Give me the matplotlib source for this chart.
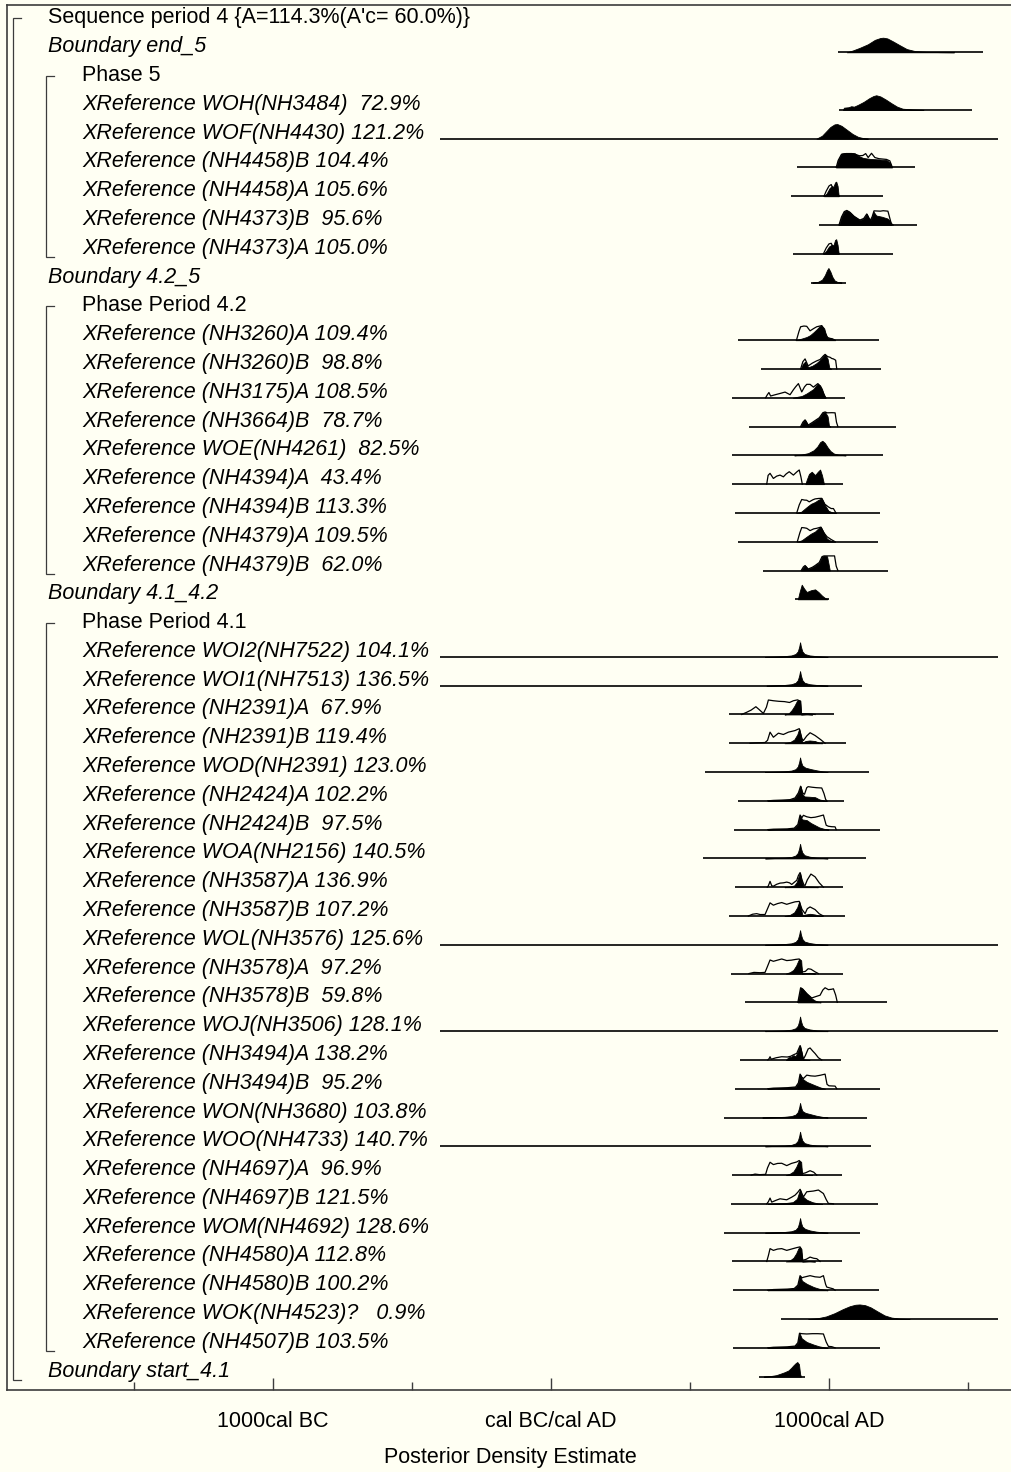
import matplotlib
matplotlib.use("Agg")
import matplotlib.pyplot as plt
from matplotlib.transforms import blended_transform_factory
from matplotlib.ticker import FixedLocator

plt.rcParams['font.family'] = ['Liberation Sans', 'DejaVu Sans']

# ---------------------------------------------------------------------------
# Model rows (top to bottom)
# ---------------------------------------------------------------------------
row_names = [
    "Sequence period 4 {A=114.3%(A'c= 60.0%)}",
    "Boundary end_5",
    "Phase 5",
    "XReference WOH(NH3484)",
    "XReference WOF(NH4430)",
    "XReference (NH4458)B",
    "XReference (NH4458)A",
    "XReference (NH4373)B",
    "XReference (NH4373)A",
    "Boundary 4.2_5",
    "Phase Period 4.2",
    "XReference (NH3260)A",
    "XReference (NH3260)B",
    "XReference (NH3175)A",
    "XReference (NH3664)B",
    "XReference WOE(NH4261)",
    "XReference (NH4394)A",
    "XReference (NH4394)B",
    "XReference (NH4379)A",
    "XReference (NH4379)B",
    "Boundary 4.1_4.2",
    "Phase Period 4.1",
    "XReference WOI2(NH7522)",
    "XReference WOI1(NH7513)",
    "XReference (NH2391)A",
    "XReference (NH2391)B",
    "XReference WOD(NH2391)",
    "XReference (NH2424)A",
    "XReference (NH2424)B",
    "XReference WOA(NH2156)",
    "XReference (NH3587)A",
    "XReference (NH3587)B",
    "XReference WOL(NH3576)",
    "XReference (NH3578)A",
    "XReference (NH3578)B",
    "XReference WOJ(NH3506)",
    "XReference (NH3494)A",
    "XReference (NH3494)B",
    "XReference WON(NH3680)",
    "XReference WOO(NH4733)",
    "XReference (NH4697)A",
    "XReference (NH4697)B",
    "XReference WOM(NH4692)",
    "XReference (NH4580)A",
    "XReference (NH4580)B",
    "XReference WOK(NH4523)?",
    "XReference (NH4507)B",
    "Boundary start_4.1",
]

row_kinds = (["seq", "boundary", "phase"] + ["xref"] * 6 + ["boundary", "phase"]
             + ["xref"] * 9 + ["boundary", "phase"] + ["xref"] * 25 + ["boundary"])

# agreement index (%) of each XReference, in row order
xref_agreement = [
    72.9, 121.2, 104.4, 105.6, 95.6, 105.0,
    109.4, 98.8, 108.5, 78.7, 82.5, 43.4, 113.3, 109.5, 62.0,
    104.1, 136.5, 67.9, 119.4, 123.0, 102.2, 97.5, 140.5, 136.9, 107.2,
    125.6, 97.2, 59.8, 128.1, 138.2, 95.2, 103.8, 140.7, 96.9, 121.5,
    128.6, 112.8, 100.2, 0.9, 103.5,
]

# plotted range of each distribution (calendar years, BC negative)
range_start = [None, 1034, None, 1037, -400, 884, 863, 964, 869, 935, None,
               674, 755, 652, 712, 652, 652, 662, 671, 761, 878, None,
               -400, -400, 640, 640, 554, 674, 658, 546, 662, 640, -400,
               648, 698, -400, 680, 662, 623, -400, 650, 648, 623, 652, 656,
               827, 656, 749]
range_end = [None, 1553, None, 1513, 1608, 1309, 1193, 1315, 1231, 1060, None,
             1180, 1187, 1058, 1240, 1196, 1049, 1183, 1177, 1211, 1000, None,
             1609, 1120, 1019, 1060, 1144, 1055, 1183, 1132, 1049, 1058, 1609,
             1049, 1210, 1609, 1042, 1183, 1136, 1150, 1046, 1175, 1111, 1048,
             1181, 1609, 1183, 914]

# ---------------------------------------------------------------------------
# Posterior (filled) and likelihood (outline) densities: (year, relative height)
# ---------------------------------------------------------------------------
post_end_5 = [(1064, 0), (1085, 0.12), (1110, 0.3), (1140, 0.55), (1165, 0.85), (1185, 0.98),
              (1195, 1.0), (1210, 0.95), (1230, 0.75), (1255, 0.48), (1280, 0.22),
              (1310, 0.08), (1350, 0.03), (1400, 0.01), (1450, 0)]
post_WOH = [(1050, 0), (1054, 0.15), (1070, 0.18), (1080, 0.25), (1090, 0.22), (1105, 0.35),
            (1125, 0.55), (1145, 0.8), (1160, 0.95), (1170, 1.0), (1185, 0.92), (1205, 0.7),
            (1225, 0.45), (1245, 0.22), (1265, 0.08), (1300, 0.03), (1340, 0)]
post_WOF = [(955, 0), (975, 0.2), (990, 0.5), (1005, 0.8), (1020, 0.98), (1030, 1.0),
            (1045, 0.88), (1065, 0.6), (1085, 0.32), (1105, 0.12), (1125, 0.03), (1140, 0)]
post_4458B = [(1026, 0), (1033, 0.5), (1045, 0.95), (1060, 1.0), (1080, 1.0), (1093, 0.97),
              (1105, 0.8), (1123, 0.65), (1150, 0.58), (1180, 0.55), (1208, 0.5),
              (1220, 0.3), (1226, 0)]
like_4458B = [(1026, 0), (1033, 0.48), (1045, 0.9), (1060, 0.94), (1080, 0.94), (1093, 0.9),
              (1110, 0.8), (1122, 0.82), (1132, 0.95), (1141, 0.68), (1153, 0.97),
              (1165, 0.68), (1180, 0.6), (1207, 0.55), (1219, 0.45), (1228, 0)]
post_4458A = [(982, 0), (992, 0.2), (1002, 0.55), (1010, 0.7), (1016, 0.65), (1022, 0.95),
              (1026, 1.0), (1031, 0.7), (1035, 0)]
like_4458A = [(982, 0), (990, 0.35), (1000, 0.7), (1008, 0.8), (1014, 0.55), (1020, 0.4),
              (1030, 0.25), (1036, 0)]
post_4373B = [(1036, 0), (1045, 0.55), (1055, 0.92), (1064, 1.0), (1075, 0.88), (1090, 0.6),
              (1111, 0.34), (1125, 0.45), (1136, 0.76), (1148, 0.3), (1155, 0.55),
              (1160, 0.92), (1170, 0.65), (1190, 0.57), (1210, 0.45), (1219, 0.3), (1226, 0)]
like_4373B = [(1036, 0), (1045, 0.55), (1055, 0.92), (1064, 1.0), (1075, 0.88), (1090, 0.6),
              (1111, 0.34), (1125, 0.45), (1136, 0.76), (1148, 0.3), (1155, 0.55),
              (1162, 0.97), (1185, 0.95), (1195, 0.98), (1212, 0.95), (1217, 0.6),
              (1224, 0.1), (1231, 0)]
post_4373A = [(980, 0), (990, 0.2), (1000, 0.5), (1010, 0.62), (1016, 0.58), (1022, 0.95),
              (1026, 1.0), (1031, 0.6), (1035, 0)]
like_4373A = [(980, 0), (990, 0.4), (1000, 0.68), (1008, 0.72), (1014, 0.5), (1022, 0.35),
              (1030, 0.2), (1036, 0)]
post_b42_5 = [(940, 0), (960, 0.05), (975, 0.2), (985, 0.5), (993, 0.85), (998, 1.0),
              (1005, 0.75), (1012, 0.4), (1020, 0.15), (1030, 0.05), (1045, 0)]
post_3260A = [(880, 0), (900, 0.1), (920, 0.22), (932, 0.34), (945, 0.55), (956, 0.75),
              (966, 0.95), (974, 1.0), (983, 0.8), (990, 0.3), (995, 0.18), (1005, 0.1),
              (1015, 0.05), (1022, 0)]
like_3260A = [(883, 0), (892, 0.6), (898, 0.92), (910, 0.97), (920, 0.95), (932, 0.64),
              (945, 0.8), (956, 0.92), (974, 1.0), (985, 0.55), (995, 0.18), (1005, 0.12),
              (1012, 0.1), (1022, 0)]
post_3260B = [(898, 0), (906, 0.35), (914, 0.5), (925, 0.12), (940, 0.22), (955, 0.4),
              (968, 0.62), (980, 0.9), (986, 1.0), (995, 0.7), (1001, 0.1), (1008, 0)]
like_3260B = [(898, 0), (906, 0.5), (914, 0.69), (925, 0.21), (940, 0.4), (955, 0.55),
              (968, 0.65), (980, 0.9), (986, 1.0), (995, 0.85), (1004, 0.8), (1010, 0.72),
              (1016, 0.69), (1024, 0.6), (1028, 0)]
post_3175A = [(870, 0), (890, 0.08), (902, 0.12), (920, 0.3), (932, 0.45), (944, 0.6),
              (952, 0.8), (960, 0.97), (968, 0.85), (975, 0.6), (982, 0.2), (988, 0)]
like_3175A = [(772, 0), (778, 0.2), (784, 0.36), (790, 0.12), (805, 0.2), (825, 0.3),
              (842, 0.39), (860, 0.21), (872, 0.55), (880, 0.75), (890, 0.97), (902, 0.4),
              (912, 0.75), (920, 0.92), (932, 0.92), (944, 0.73), (952, 0.85), (960, 0.97),
              (970, 0.7), (980, 0.3), (988, 0)]
post_3664B = [(898, 0), (906, 0.3), (914, 0.46), (925, 0.1), (940, 0.28), (950, 0.41),
              (965, 0.6), (978, 0.95), (986, 1.0), (995, 0.7), (1000, 0.05), (1005, 0)]
like_3664B = [(898, 0), (906, 0.3), (914, 0.46), (925, 0.1), (940, 0.28), (950, 0.41),
              (965, 0.6), (978, 0.95), (986, 1.0), (994, 0.94), (1010, 0.95), (1022, 0.94),
              (1027, 0.3), (1032, 0)]
post_WOE = [(875, 0), (900, 0.05), (925, 0.15), (945, 0.35), (958, 0.6), (968, 0.9),
            (976, 1.0), (985, 0.85), (995, 0.55), (1005, 0.3), (1018, 0.12), (1035, 0.04),
            (1060, 0)]
post_4394A = [(915, 0), (920, 0.3), (928, 0.7), (938, 0.85), (950, 0.62), (960, 0.85),
              (968, 1.0), (975, 0.6), (982, 0)]
like_4394A = [(776, 0), (781, 0.6), (788, 0.74), (800, 0.39), (812, 0.55), (824, 0.62),
              (836, 0.5), (846, 0.7), (857, 0.85), (872, 0.62), (885, 0.85), (893, 0.97),
              (899, 0.5), (904, 0)]
post_4394B = [(884, 0), (900, 0.08), (920, 0.4), (935, 0.62), (950, 0.75), (962, 0.9),
              (974, 1.0), (985, 0.55), (998, 0.15), (1010, 0.05), (1025, 0)]
like_4394B = [(884, 0), (893, 0.55), (902, 0.92), (912, 0.88), (920, 0.87), (929, 0.76),
              (942, 0.9), (950, 0.96), (962, 0.99), (974, 1.0), (985, 0.6), (998, 0.41),
              (1008, 0.3), (1016, 0.3), (1025, 0)]
post_4379A = [(886, 0), (902, 0.1), (920, 0.35), (935, 0.55), (950, 0.7), (962, 0.92),
              (971, 1.0), (982, 0.6), (993, 0.2), (1005, 0.08), (1022, 0)]
like_4379A = [(886, 0), (895, 0.6), (902, 0.97), (912, 0.95), (920, 0.92), (932, 0.76),
              (945, 0.88), (956, 0.92), (971, 1.0), (982, 0.6), (993, 0.34), (1008, 0.15),
              (1022, 0)]
post_4379B = [(900, 0), (908, 0.25), (914, 0.34), (925, 0.1), (940, 0.22), (950, 0.34),
              (965, 0.55), (975, 0.95), (982, 1.0), (993, 0.98), (999, 0.4), (1003, 0)]
like_4379B = [(900, 0), (908, 0.25), (914, 0.34), (925, 0.1), (940, 0.22), (950, 0.34),
              (965, 0.55), (975, 0.95), (982, 1.0), (1020, 1.0), (1026, 0.3), (1032, 0)]
post_b41_42 = [(888, 0), (895, 0.55), (902, 1.0), (910, 0.75), (920, 0.5), (935, 0.62),
               (950, 0.68), (962, 0.5), (975, 0.25), (985, 0.1), (994, 0)]
post_WOI2 = [(770, 0), (800, 0.02), (840, 0.05), (865, 0.1), (880, 0.2), (888, 0.38),
             (893, 0.7), (896, 1.0), (899, 0.7), (904, 0.38), (912, 0.2), (930, 0.1),
             (955, 0.05), (980, 0.02), (995, 0)]
post_WOI1 = [(775, 0), (800, 0.02), (840, 0.05), (865, 0.1), (880, 0.2), (888, 0.38),
             (893, 0.7), (896, 1.0), (899, 0.7), (904, 0.38), (912, 0.2), (930, 0.1),
             (955, 0.05), (980, 0.02), (995, 0)]
post_2391A = [(840, 0), (854, 0.05), (866, 0.3), (876, 0.6), (884, 0.9), (888, 1.0),
              (897, 0.95), (900, 0), (920, 0.03), (940, 0)]
like_2391A = [(686, 0), (704, 0.15), (720, 0.3), (737, 0.53), (748, 0.35), (764, 0.07),
              (775, 0.5), (782, 0.99), (800, 0.94), (820, 0.9), (840, 0.88), (858, 0.82),
              (872, 0.94), (887, 1.0), (897, 0.9), (900, 0.05), (915, 0.05), (930, 0.04),
              (950, 0)]
post_2391B = [(840, 0), (860, 0.08), (875, 0.25), (886, 0.6), (893, 1.0), (900, 0.4),
              (905, 0.05), (915, 0.15), (930, 0.19), (950, 0.15), (965, 0.03), (975, 0)]
like_2391B = [(716, 0), (740, 0.03), (770, 0.05), (779, 0.2), (788, 0.76), (800, 0.41),
              (818, 0.69), (836, 0.6), (854, 0.76), (878, 0.87), (893, 1.0), (903, 0.3),
              (908, 0.19), (920, 0.5), (932, 0.72), (950, 0.53), (970, 0.25), (986, 0)]
post_WOD = [(770, 0), (800, 0.02), (840, 0.05), (865, 0.1), (880, 0.2), (888, 0.38),
            (893, 0.7), (896, 1.0), (899, 0.72), (904, 0.45), (915, 0.3), (935, 0.2),
            (955, 0.12), (975, 0.05), (995, 0)]
post_2424A = [(780, 0), (800, 0.03), (830, 0.05), (860, 0.08), (878, 0.2), (890, 0.55),
              (898, 1.0), (905, 0.45), (912, 0.3), (930, 0.28), (950, 0.25), (965, 0.1),
              (980, 0.03), (992, 0)]
like_2424A = [(780, 0), (800, 0.03), (830, 0.05), (860, 0.08), (878, 0.2), (890, 0.55),
              (898, 1.0), (905, 0.55), (912, 0.45), (920, 0.9), (925, 0.97), (940, 0.93),
              (955, 0.9), (974, 0.88), (982, 0.5), (988, 0.1), (992, 0)]
post_2424B = [(780, 0), (800, 0.03), (850, 0.05), (875, 0.1), (888, 0.35), (896, 1.0),
              (903, 0.7), (920, 0.65), (935, 0.45), (950, 0.3), (965, 0.15), (985, 0.04),
              (998, 0)]
like_2424B = [(780, 0), (800, 0.03), (850, 0.05), (875, 0.1), (888, 0.35), (896, 1.0),
              (902, 0.8), (908, 0.98), (920, 0.88), (935, 0.82), (950, 0.85), (965, 0.92),
              (980, 1.0), (990, 0.3), (998, 0.23), (1010, 0.2), (1022, 0.19), (1026, 0)]
post_WOA = [(770, 0), (800, 0.02), (840, 0.05), (865, 0.1), (880, 0.2), (888, 0.38),
            (893, 0.7), (896, 1.0), (899, 0.7), (904, 0.4), (912, 0.22), (930, 0.12),
            (955, 0.05), (980, 0.02), (995, 0)]
post_3587A = [(840, 0), (860, 0.05), (875, 0.12), (884, 0.35), (890, 0.7), (896, 1.0),
              (902, 0.4), (908, 0.05), (920, 0.05), (940, 0.03), (960, 0)]
like_3587A = [(778, 0), (782, 0.1), (788, 0.4), (794, 0.1), (800, 0.07), (812, 0.2),
              (824, 0.28), (836, 0.3), (848, 0.35), (858, 0.3), (866, 0.19), (876, 0.35),
              (884, 0.47), (890, 0.8), (896, 1.0), (903, 0.5), (910, 0.15), (914, 0.12),
              (922, 0.5), (935, 0.9), (950, 0.71), (965, 0.3), (980, 0)]
post_3587B = [(840, 0), (860, 0.08), (875, 0.25), (886, 0.6), (893, 1.0), (899, 0.5),
              (905, 0.05), (915, 0.1), (932, 0.15), (950, 0.1), (965, 0.02), (975, 0)]
like_3587B = [(710, 0), (725, 0.12), (740, 0.16), (752, 0.1), (770, 0.1), (779, 0.5),
              (788, 0.9), (800, 0.74), (815, 0.85), (830, 0.92), (848, 0.8), (865, 0.9),
              (878, 0.97), (893, 1.0), (903, 0.45), (914, 0.16), (922, 0.5), (932, 0.62),
              (950, 0.44), (965, 0.15), (980, 0)]
post_WOL = [(770, 0), (800, 0.02), (840, 0.05), (865, 0.1), (880, 0.2), (888, 0.38),
            (893, 0.7), (896, 1.0), (899, 0.7), (904, 0.4), (912, 0.22), (930, 0.12),
            (955, 0.05), (980, 0.02), (995, 0)]
post_3578A = [(845, 0), (860, 0.1), (872, 0.25), (882, 0.55), (890, 0.9), (894, 1.0),
              (900, 0.9), (903, 0), (915, 0.03), (930, 0.05), (950, 0)]
like_3578A = [(712, 0), (730, 0.08), (752, 0.06), (770, 0.08), (779, 0.5), (788, 0.93),
              (800, 0.84), (815, 0.92), (830, 1.0), (848, 0.89), (865, 0.92), (880, 0.97),
              (893, 1.0), (900, 0.6), (904, 0.11), (915, 0.15), (925, 0.33), (935, 0.3),
              (950, 0.12), (962, 0)]
post_3578B = [(888, 0), (893, 0.5), (898, 1.0), (905, 0.92), (920, 0.6), (938, 0.27),
              (950, 0.12), (960, 0.05), (970, 0)]
like_3578B = [(888, 0), (893, 0.5), (898, 1.0), (905, 0.92), (920, 0.6), (938, 0.3),
              (950, 0.38), (968, 0.49), (978, 0.85), (986, 1.0), (998, 0.87), (1010, 0.9),
              (1016, 0.93), (1024, 0.5), (1030, 0)]
post_WOJ = [(770, 0), (800, 0.02), (840, 0.05), (865, 0.1), (880, 0.2), (888, 0.38),
            (893, 0.7), (896, 1.0), (899, 0.7), (904, 0.4), (912, 0.22), (930, 0.12),
            (955, 0.05), (980, 0.02), (995, 0)]
post_3494A = [(845, 0), (854, 0.18), (864, 0.22), (872, 0.33), (880, 0.25), (888, 0.6),
              (896, 1.0), (902, 0.5), (906, 0.05), (915, 0.03), (930, 0)]
like_3494A = [(780, 0), (785, 0.1), (788, 0.22), (792, 0.05), (810, 0.15), (830, 0.22),
              (850, 0.2), (862, 0.25), (872, 0.35), (884, 0.45), (896, 0.98), (903, 0.45),
              (908, 0.05), (915, 0.3), (925, 0.75), (932, 0.82), (942, 0.6), (950, 0.44),
              (962, 0.15), (974, 0)]
post_3494B = [(780, 0), (800, 0.04), (850, 0.07), (880, 0.12), (890, 0.4), (896, 1.0),
              (903, 0.7), (920, 0.47), (935, 0.35), (950, 0.23), (970, 0.08), (986, 0)]
like_3494B = [(780, 0), (800, 0.04), (850, 0.07), (880, 0.12), (890, 0.4), (896, 1.0),
              (902, 0.8), (908, 0.7), (920, 0.93), (935, 0.88), (950, 0.86), (968, 0.92),
              (986, 1.0), (993, 0.3), (1000, 0.2), (1022, 0.18), (1028, 0)]
post_WON = [(760, 0), (800, 0.02), (840, 0.05), (865, 0.1), (880, 0.2), (888, 0.38),
            (893, 0.7), (896, 1.0), (899, 0.72), (904, 0.45), (915, 0.32), (935, 0.22),
            (955, 0.12), (975, 0.05), (995, 0)]
post_WOO = [(770, 0), (800, 0.02), (840, 0.05), (865, 0.1), (880, 0.2), (888, 0.38),
            (893, 0.7), (896, 1.0), (899, 0.7), (904, 0.4), (912, 0.22), (930, 0.12),
            (955, 0.05), (980, 0.02), (995, 0)]
post_4697A = [(845, 0), (860, 0.1), (872, 0.25), (882, 0.55), (890, 0.9), (894, 1.0),
              (900, 0.9), (903, 0), (920, 0.03), (940, 0)]
like_4697A = [(720, 0), (734, 0.07), (750, 0.03), (772, 0.05), (779, 0.5), (788, 0.88),
              (800, 0.72), (815, 0.8), (830, 0.81), (848, 0.65), (865, 0.8), (884, 0.9),
              (893, 1.0), (900, 0.6), (904, 0.1), (915, 0.15), (932, 0.3), (945, 0.2),
              (956, 0)]
post_4697B = [(780, 0), (800, 0.03), (840, 0.05), (870, 0.12), (885, 0.35), (896, 1.0),
              (903, 0.55), (920, 0.28), (940, 0.12), (960, 0.03), (975, 0)]
like_4697B = [(776, 0), (782, 0.15), (788, 0.4), (794, 0.12), (810, 0.25), (824, 0.35),
              (848, 0.28), (865, 0.45), (878, 0.6), (888, 0.8), (896, 1.0), (908, 0.48),
              (920, 0.83), (944, 0.88), (962, 0.95), (980, 0.71), (990, 0.3), (998, 0.03),
              (1010, 0.02), (1016, 0)]
post_WOM = [(770, 0), (800, 0.02), (840, 0.05), (865, 0.1), (880, 0.2), (888, 0.38),
            (893, 0.7), (896, 1.0), (899, 0.7), (904, 0.42), (914, 0.26), (932, 0.15),
            (955, 0.07), (980, 0.02), (995, 0)]
post_4580A = [(845, 0), (860, 0.08), (872, 0.25), (882, 0.55), (890, 0.9), (896, 1.0),
              (901, 0.85), (904, 0), (930, 0.03), (950, 0)]
like_4580A = [(776, 0), (782, 0.4), (788, 0.88), (800, 0.76), (815, 0.85), (830, 0.88),
              (848, 0.76), (865, 0.85), (884, 0.95), (896, 1.0), (902, 0.5), (906, 0.08),
              (918, 0.15), (932, 0.3), (945, 0.22), (956, 0.19), (968, 0)]
post_4580B = [(780, 0), (800, 0.05), (850, 0.08), (875, 0.12), (888, 0.35), (896, 1.0),
              (903, 0.65), (920, 0.44), (945, 0.22), (965, 0.1), (985, 0.03), (995, 0)]
like_4580B = [(780, 0), (800, 0.05), (850, 0.08), (875, 0.12), (888, 0.35), (896, 1.0),
              (903, 0.85), (908, 0.89), (932, 1.0), (950, 0.92), (968, 0.89), (980, 1.0),
              (988, 0.4), (992, 0.22), (1005, 0.15), (1015, 0.1), (1022, 0)]
post_WOK = [(925, 0), (960, 0.06), (990, 0.18), (1020, 0.4), (1050, 0.68), (1075, 0.88),
            (1095, 0.98), (1110, 1.0), (1130, 0.95), (1150, 0.8), (1175, 0.52),
            (1200, 0.25), (1225, 0.1), (1255, 0.03), (1290, 0)]
post_4507B = [(780, 0), (800, 0.04), (850, 0.07), (878, 0.12), (888, 0.35), (894, 1.0),
              (902, 0.65), (920, 0.4), (945, 0.22), (965, 0.1), (985, 0.03), (995, 0)]
like_4507B = [(780, 0), (800, 0.04), (850, 0.07), (878, 0.12), (888, 0.35), (894, 1.0),
              (902, 0.97), (920, 0.95), (940, 0.97), (960, 0.97), (980, 0.95), (990, 0.4),
              (998, 0.1), (1010, 0.08), (1022, 0)]
post_start_41 = [(765, 0), (790, 0.04), (810, 0.1), (824, 0.19), (840, 0.3), (854, 0.42),
                 (864, 0.6), (872, 0.77), (880, 0.92), (886, 1.0), (892, 0.85), (896, 0.2),
                 (899, 0)]

posteriors = [None, post_end_5, None, post_WOH, post_WOF, post_4458B, post_4458A,
              post_4373B, post_4373A, post_b42_5, None, post_3260A, post_3260B,
              post_3175A, post_3664B, post_WOE, post_4394A, post_4394B, post_4379A,
              post_4379B, post_b41_42, None, post_WOI2, post_WOI1, post_2391A,
              post_2391B, post_WOD, post_2424A, post_2424B, post_WOA, post_3587A,
              post_3587B, post_WOL, post_3578A, post_3578B, post_WOJ, post_3494A,
              post_3494B, post_WON, post_WOO, post_4697A, post_4697B, post_WOM,
              post_4580A, post_4580B, post_WOK, post_4507B, post_start_41]
likelihoods = [None, None, None, None, None, like_4458B, like_4458A, like_4373B,
               like_4373A, None, None, like_3260A, like_3260B, like_3175A, like_3664B,
               None, like_4394A, like_4394B, like_4379A, like_4379B, None, None,
               None, None, like_2391A, like_2391B, None, like_2424A, like_2424B, None,
               like_3587A, like_3587B, None, like_3578A, like_3578B, None, like_3494A,
               like_3494B, None, None, like_4697A, like_4697B, None, like_4580A,
               like_4580B, None, like_4507B, None]

# bracket spans (first row, last row) for the sequence and its phases
sequence_span = (0, 47)
phase_spans = [(2, 8), (10, 19), (21, 46)]

axis_ticks_major = [-1000, 0, 1000]
axis_ticks_minor = [-1500, -500, 500, 1500]
axis_tick_labels = ["1000cal BC", "cal BC/cal AD", "1000cal AD"]

# ---------------------------------------------------------------------------
# Drawing
# ---------------------------------------------------------------------------
BG = "#FFFFF3"
INK = "black"
FRAME = "#3c3c3c"
W, H = 1011, 1472
DPI = 100

fig = plt.figure(figsize=(W / DPI, H / DPI), dpi=DPI, facecolor=BG)
ax_left, ax_right, ax_top, ax_bottom = 7, 1013, 5, 1390
ax = fig.add_axes([ax_left / W, 1 - ax_bottom / H, (ax_right - ax_left) / W,
                   (ax_bottom - ax_top) / H])
ax.set_facecolor(BG)

row_px = 28.79
first_row_px = 18
ax.set_xlim(-1957, 1662)
ax.set_ylim((ax_bottom - first_row_px) / row_px, (ax_top - first_row_px) / row_px)

base_offset = 5.5 / row_px       # baseline sits a little below the label centre
peak_height = 14.6 / row_px      # height of a density at relative value 1.0

lab_tf = blended_transform_factory(ax.transAxes, ax.transData)
ax_w_px = ax_right - ax_left


def xfrac(px):
    return (px - ax_left) / ax_w_px


FS = 15.5
ai = 0
for i, (name, kind) in enumerate(zip(row_names, row_kinds)):
    if kind == "xref":
        text = f"{name} {xref_agreement[ai]:5.1f}%"
        ai += 1
    else:
        text = name
    indent = 48 if kind in ("seq", "boundary") else 82
    style = "italic" if kind in ("boundary", "xref") else "normal"
    ax.text(xfrac(indent), i, text, transform=lab_tf, fontsize=FS, style=style,
            va="center", ha="left", color=INK)

    base = i + base_offset
    if range_start[i] is not None:
        ax.plot([range_start[i], range_end[i]], [base, base], color=INK, lw=1.2,
                solid_capstyle="butt", zorder=2)
    like = likelihoods[i]
    if like is not None:
        xs = [p[0] for p in like]
        ys = [base - p[1] * peak_height for p in like]
        ax.plot(xs, ys, color=INK, lw=0.9, zorder=3)
    post = posteriors[i]
    if post is not None:
        xs = [p[0] for p in post]
        ys = [base - p[1] * peak_height for p in post]
        ax.fill_between(xs, base, ys, color=INK, lw=0.6, zorder=4)


def bracket(span, x_px, tick_px=8):
    top, bottom = span
    y0 = top
    y1 = bottom + 0.3
    xa, xb = xfrac(x_px), xfrac(x_px + tick_px)
    ax.plot([xb, xa, xa, xb], [y0, y0, y1, y1], transform=lab_tf, color=FRAME,
            lw=0.9, solid_joinstyle="miter", zorder=2)


bracket(sequence_span, 13)
for sp in phase_spans:
    bracket(sp, 46)

# frame and axis
for side in ("left", "top", "bottom"):
    ax.spines[side].set_color(FRAME)
    ax.spines[side].set_linewidth(1.2)
ax.spines["right"].set_visible(False)
ax.yaxis.set_visible(False)
ax.xaxis.set_major_locator(FixedLocator(axis_ticks_major))
ax.xaxis.set_minor_locator(FixedLocator(axis_ticks_minor))
ax.set_xticklabels(axis_tick_labels)
ax.tick_params(axis="x", which="major", direction="in", length=9, width=1.0,
               color=FRAME, labelsize=FS, pad=15, labelcolor=INK)
ax.tick_params(axis="x", which="minor", direction="in", length=5.5, width=1.0,
               color=FRAME)
ax.set_xlabel("Posterior Density Estimate", fontsize=FS, labelpad=11, color=INK)

fig.savefig("out.png", dpi=DPI, facecolor=BG)
